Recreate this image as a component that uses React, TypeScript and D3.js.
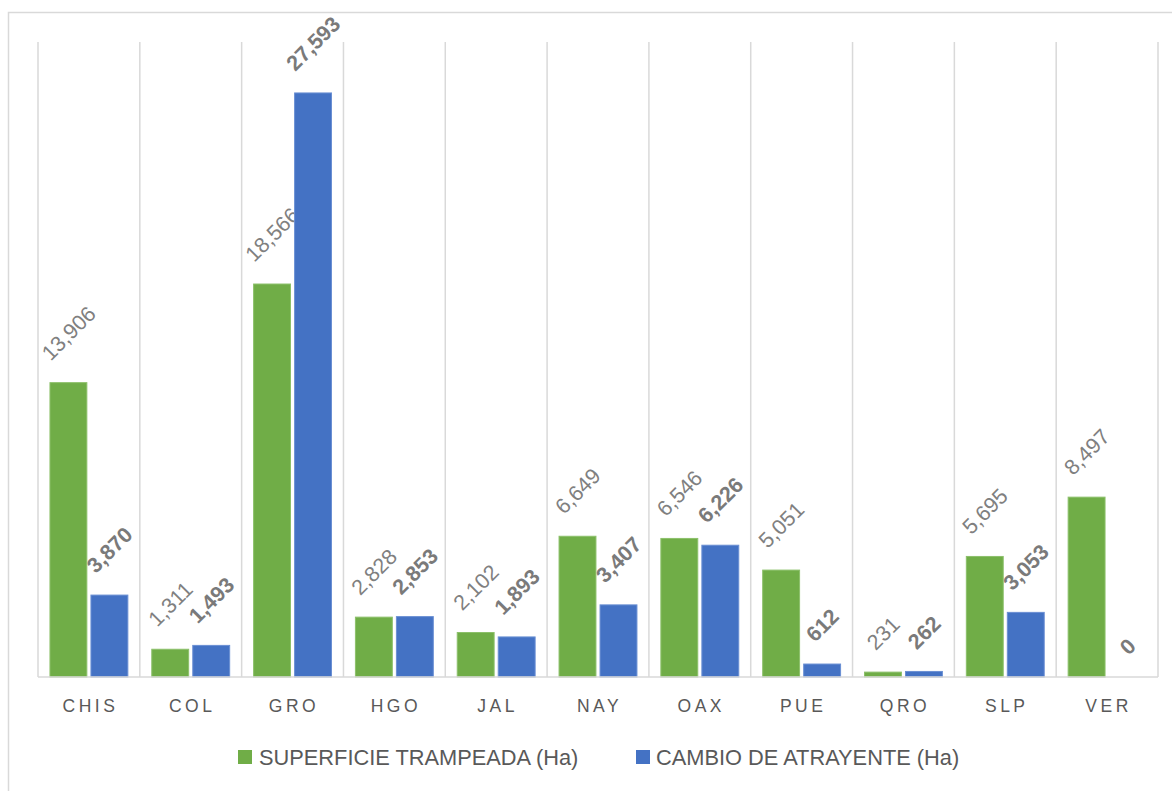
import React from "react";
import * as d3 from "d3";

const categories = ["CHIS", "COL", "GRO", "HGO", "JAL", "NAY", "OAX", "PUE", "QRO", "SLP", "VER"];
const superficie = [13906, 1311, 18566, 2828, 2102, 6649, 6546, 5051, 231, 5695, 8497];
const cambio = [3870, 1493, 27593, 2853, 1893, 3407, 6226, 612, 262, 3053, 0];
const seriesNames = ["SUPERFICIE TRAMPEADA (Ha)", "CAMBIO DE ATRAYENTE (Ha)"];
const yMax = 30000;

const W = 1172;
const H = 791;
const left = 38;
const right = 1158;
const top = 42;
const bottom = 677;
const GREEN = "#70AD47";
const BLUE = "#4472C4";
const FONT = "'Liberation Sans', Arial, sans-serif";

const fmt = d3.format(",");

function textLen(s: string, size: number) {
  let w = 0;
  for (const c of s) w += c === "," ? 0.278 : 0.556;
  return w * size;
}

export default function App() {
  const x0 = d3.scaleBand<string>().domain(categories).range([left, right]).paddingInner(0).paddingOuter(0);
  const bw = x0.bandwidth();
  const groupW = bw * 0.765;
  const x1 = d3.scaleBand<string>().domain(["s", "c"]).range([(bw - groupW) / 2, (bw + groupW) / 2]).paddingInner(0.1).paddingOuter(0);
  const y = d3.scaleLinear().domain([0, yMax]).range([bottom, top]);

  const labelSize = 21.5;
  const capH = labelSize * 0.716;
  const gap = 21;

  const series = [
    { key: "s", values: superficie, color: GREEN, stroke: "#8CC06A", bold: false, labelColor: "#808080" },
    { key: "c", values: cambio, color: BLUE, stroke: "#6A8FD3", bold: true, labelColor: "#7A7A7A" },
  ];

  const boundaries = d3.range(categories.length + 1).map((i) => left + i * bw);

  return (
    <svg width={W} height={H} style={{ position: "absolute", left: 0, top: 0, background: "#fff" }} fontFamily={FONT}>
      <rect x={8.5} y={12.5} width={1300} height={900} fill="#fff" stroke="#D9D9D9" strokeWidth={1.5} />
      {boundaries.map((bx, i) => (
        <line key={i} x1={bx} x2={bx} y1={top} y2={bottom} stroke="#D9D9D9" strokeWidth={1.5} />
      ))}
      {series.map((s) =>
        categories.map((c, i) => {
          const v = s.values[i];
          const bx = (x0(c) as number) + (x1(s.key) as number);
          const by = y(v);
          const cx = bx + x1.bandwidth() / 2;
          const label = fmt(v);
          const L = textLen(label, labelSize);
          const cy = by - gap - (L + capH) / (2 * Math.SQRT2);
          return (
            <g key={s.key + c}>
              {v > 0 && (
                <rect x={bx} y={by} width={x1.bandwidth()} height={bottom - by} fill={s.color} stroke={s.stroke} strokeWidth={1} />
              )}
              <text
                transform={`translate(${cx},${cy}) rotate(-45)`}
                textAnchor="middle"
                dy="0.36em"
                fontSize={labelSize}
                fontWeight={s.bold ? "bold" : "normal"}
                fill={s.labelColor}
              >
                {label}
              </text>
            </g>
          );
        })
      )}
      <line x1={left} x2={right} y1={bottom} y2={bottom} stroke="#D9D9D9" strokeWidth={1.5} />
      {categories.map((c) => (
        <text
          key={c}
          x={(x0(c) as number) + bw / 2 + 1.5}
          y={712}
          textAnchor="middle"
          fontSize={17.5}
          letterSpacing={3.5}
          fill="#595959"
        >
          {c}
        </text>
      ))}
      <g>
        <rect x={238} y={750} width={14} height={14} fill={GREEN} />
        <text x={259} y={765} fontSize={21.8} fill="#595959">{seriesNames[0]}</text>
        <rect x={636} y={750} width={14} height={14} fill={BLUE} />
        <text x={656} y={765} fontSize={21.8} fill="#595959">{seriesNames[1]}</text>
      </g>
    </svg>
  );
}
